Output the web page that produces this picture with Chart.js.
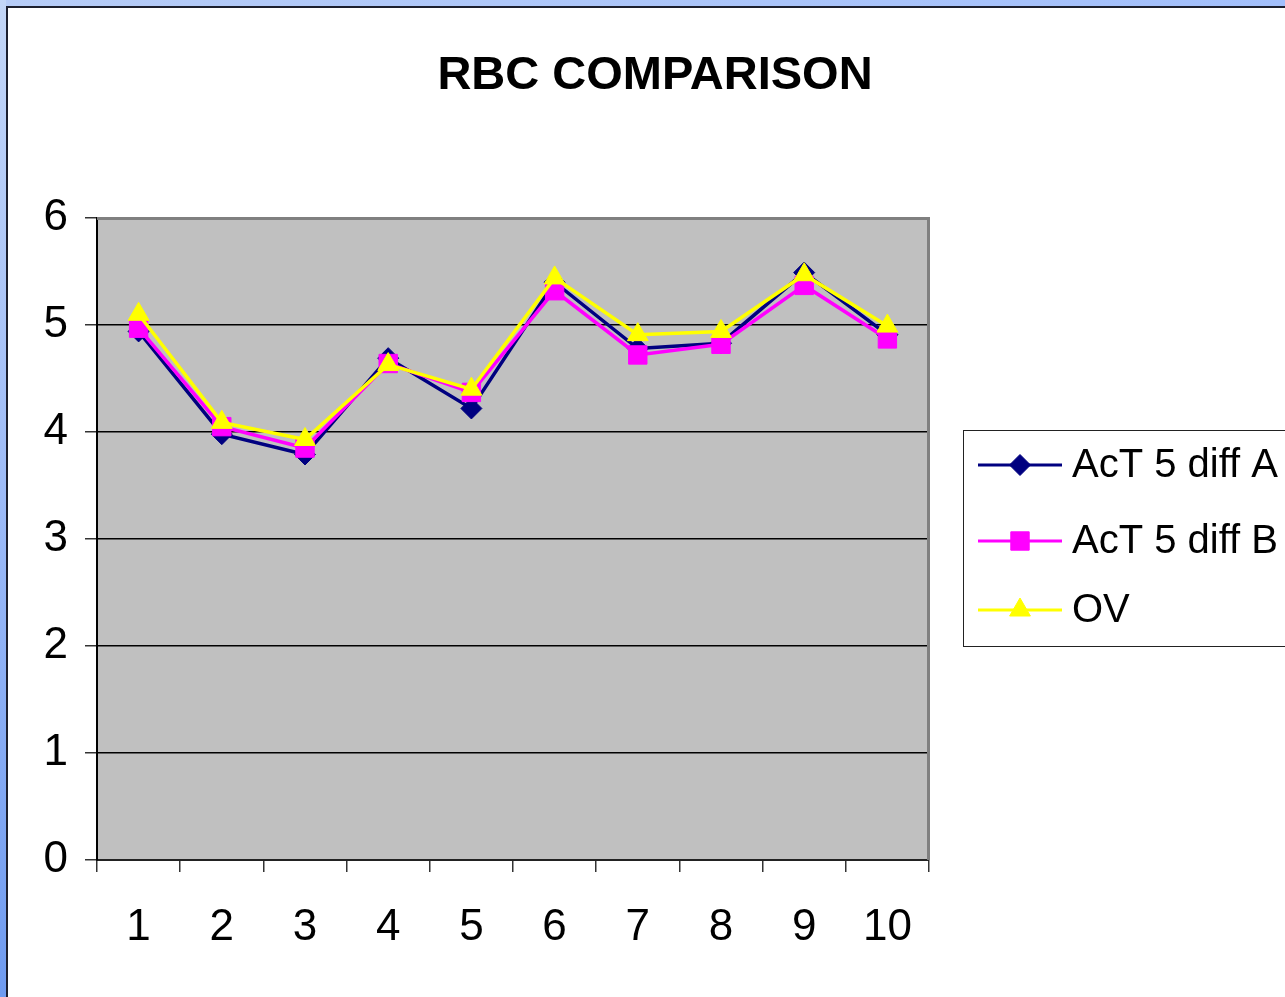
<!DOCTYPE html>
<html><head><meta charset="utf-8">
<script src="https://cdn.jsdelivr.net/npm/chart.js@4/dist/chart.umd.min.js"></script>
<style>
html,body{margin:0;padding:0;}
body{width:1285px;height:997px;overflow:hidden;background:linear-gradient(90deg,#b6ccf7 0%,#a2bffc 100%);position:relative;}
#left{position:absolute;left:0;top:0;width:6px;height:997px;background:linear-gradient(180deg,#c3d6f7 0%,#9dbbf8 50%,#6f9bf0 100%);}
#panel{position:absolute;left:6px;top:6px;width:1279px;height:991px;background:#fff;border-left:2px solid #1c1f2e;border-top:2px solid #1c1f2e;box-sizing:border-box;}
#c{position:absolute;left:0;top:0;}
</style></head>
<body>
<div id="left"></div>
<div id="panel"><canvas id="c" width="1277" height="989"></canvas></div>
<script>
const chartTitle = 'RBC COMPARISON';
const categories = ['1','2','3','4','5','6','7','8','9','10'];
const seriesNames = ['AcT 5 diff A','AcT 5 diff B','OV'];
const actA = [4.94, 3.98, 3.79, 4.69, 4.22, 5.40, 4.78, 4.83, 5.49, 4.91];
const actB = [4.97, 4.05, 3.85, 4.64, 4.37, 5.32, 4.72, 4.82, 5.37, 4.87];
const ov   = [5.10, 4.09, 3.93, 4.63, 4.40, 5.44, 4.91, 4.94, 5.47, 4.99];
const yTicks = [0,1,2,3,4,5,6];

const FONT = '"Liberation Sans", Arial, sans-serif';
const colors = ['#000080','#ff00ff','#ffff00'];
const styles = ['rectRot','rect','triangle'];
const radii = [10.5, 13, 12];
const legendRadii = [10.5, 13, 12];

const plotBg = {
  id:'plotBg',
  beforeDraw(chart){
    const {ctx, chartArea:a} = chart;
    ctx.save(); ctx.fillStyle='#c0c0c0';
    ctx.fillRect(a.left, a.top, a.right-a.left, a.bottom-a.top);
    ctx.restore();
  },
  beforeDatasetsDraw(chart){
    const {ctx, chartArea:a} = chart;
    ctx.save(); ctx.strokeStyle='#808080'; ctx.lineWidth=3;
    ctx.beginPath();
    ctx.moveTo(a.left, a.top+0.5); ctx.lineTo(a.right-0.5, a.top+0.5); ctx.lineTo(a.right-0.5, a.bottom);
    ctx.stroke(); ctx.restore();
  }
};

const titleLegend = {
  id:'titleLegend',
  afterDraw(chart){
    const ctx = chart.ctx;
    ctx.save();
    ctx.fillStyle='#000'; ctx.font='bold 47px '+FONT; ctx.textAlign='center'; ctx.textBaseline='middle';
    ctx.fillText(chartTitle, 647, 68);
    // legend box
    ctx.strokeStyle='#222'; ctx.lineWidth=1;
    ctx.strokeRect(955.5, 422.5, 400, 216);
    const rows=[457,533,602];
    chart.data.datasets.forEach((ds,i)=>{
      const y=rows[i];
      ctx.strokeStyle=ds.borderColor; ctx.lineWidth=3;
      ctx.beginPath(); ctx.moveTo(970,y); ctx.lineTo(1054,y); ctx.stroke();
      ctx.fillStyle=ds.backgroundColor; ctx.strokeStyle=ds.borderColor; ctx.lineWidth=1;
      Chart.helpers.drawPoint(ctx,{pointStyle:ds.pointStyle,radius:legendRadii[i],rotation:0,borderWidth:1},1012,y);
      ctx.fillStyle='#000'; ctx.font='40px '+FONT; ctx.textAlign='left'; ctx.textBaseline='middle';
      ctx.fillText(ds.label,1064,y+1);
    });
    ctx.restore();
  }
};

const dataArrays=[actA,actB,ov];
new Chart(document.getElementById('c'),{
  type:'line',
  data:{
    labels:categories,
    datasets:dataArrays.map((d,i)=>({
      label:seriesNames[i], data:d,
      borderColor:colors[i], backgroundColor:colors[i],
      borderWidth:3.5, pointStyle:styles[i], pointRadius:radii[i],
      pointBorderWidth:1, pointBackgroundColor:colors[i], pointBorderColor:colors[i],
      tension:0, order:2-i
    }))
  },
  options:{
    responsive:false, animation:false, devicePixelRatio:1,
    layout:{padding:{top:210,left:0,right:356,bottom:0}},
    plugins:{legend:{display:false},title:{display:false},tooltip:{enabled:false}},
    scales:{
      x:{
        offset:true,
        grid:{offset:true,drawOnChartArea:false,drawTicks:true,tickLength:12,color:'#333',lineWidth:1.5},
        border:{display:true,color:'#222',width:2},
        ticks:{font:{size:44,family:FONT},color:'#000',padding:29,autoSkip:false,maxRotation:0},
        afterFit(s){s.height=137;}
      },
      y:{
        min:yTicks[0], max:yTicks[yTicks.length-1],
        afterBuildTicks(s){s.ticks=yTicks.map(v=>({value:v}));},
        grid:{color:(c)=>c.tick&&c.tick.value===yTicks[yTicks.length-1]?'rgba(0,0,0,0)':'#000',tickColor:'#333',lineWidth:1.5,tickLength:12},
        border:{display:true,color:'#000',width:2},
        ticks:{font:{size:44,family:FONT},color:'#000',padding:17},
        afterFit(s){s.width=89;}
      }
    }
  },
  plugins:[plotBg,titleLegend]
});
</script>
</body></html>
